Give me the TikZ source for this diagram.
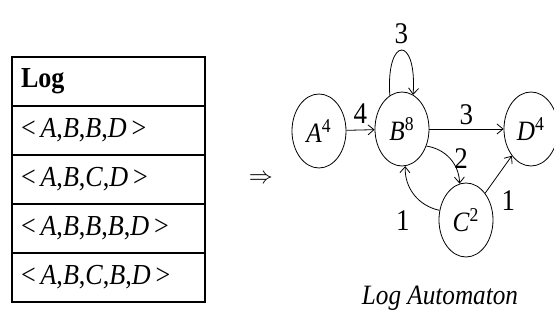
\documentclass[tikz,border=0pt]{standalone}
\usepackage{fontspec}
\setmainfont{Liberation Serif}[FakeStretch=0.9]
\usetikzlibrary{arrows.meta, shapes.geometric, positioning}

\begin{document}
\begin{tikzpicture}[
      x=0.5pt, y=-0.5pt,
      logrow/.style={draw, line width=1pt, outer sep=0pt,
                  minimum width=96.5pt, minimum height=24.5pt,
                  text width=87.5pt, inner xsep=4.5pt, align=left,
                  font=\fontsize{14.5}{17}\selectfont},
      act/.style={draw, ellipse, minimum width=27pt, minimum height=37pt,
                  inner sep=0pt, font=\fontsize{14}{16}\selectfont},
      wlabel/.style={font=\fontsize{15}{17}\selectfont, inner sep=2pt},
      >={Straight Barb[length=3pt, width=5pt]}, thin
    ]
    \useasboundingbox (0,0) rectangle (554,320);
    % the log
    \node[logrow, anchor=north west] (hdr) at (12,57) {\textbf{Log}};
    \node[logrow, below=0pt of hdr] (t1) {<\,\textit{A},\textit{B},\textit{B},\textit{D}\,>};
    \node[logrow, below=0pt of t1] (t2) {<\,\textit{A},\textit{B},\textit{C},\textit{D}\,>};
    \node[logrow, below=0pt of t2] (t3) {<\,\textit{A},\textit{B},\textit{B},\textit{B},\textit{D}\,>};
    \node[logrow, below=0pt of t3] (t4) {<\,\textit{A},\textit{B},\textit{C},\textit{B},\textit{D}\,>};
    \node[font=\fontsize{13}{15}\selectfont] (imp) at (261,179) {$\Rightarrow$};
    % the automaton
    \node[act] (A) at (319,131) {\textit{A}\textsuperscript{4}};
    \node[act] (B) at (402,129) {\textit{B}\textsuperscript{8}};
    \node[act] (D) at (531,129) {\textit{D}\textsuperscript{4}};
    \node[act] (C) at (466,220) {\textit{C}\textsuperscript{2}};
    \draw[->] (A) -- node[wlabel, above=1pt] {4} (B);
    \draw[->] (B) -- node[wlabel, above] {3} (D);
    \draw[->] (B.110) .. controls +(-4,-60) and +(4,-60) .. (B.72)
          node[wlabel, pos=0.5, above=1pt] {3};
    \draw[->] (B.-35) to[bend left=40] node[wlabel, right] {2} (C.100);
    \draw[->] (C.160) to[bend left=40] node[wlabel, below left=6pt and 0pt] {1} (B.-85);
    \draw[->] (C) -- node[wlabel, pos=0.3, below right=2pt and 2pt] {1} (D);
    \node[font=\itshape\fontsize{14}{16}\selectfont] (cap) at (440,298) {Log Automaton};
  \end{tikzpicture}
\end{document}
